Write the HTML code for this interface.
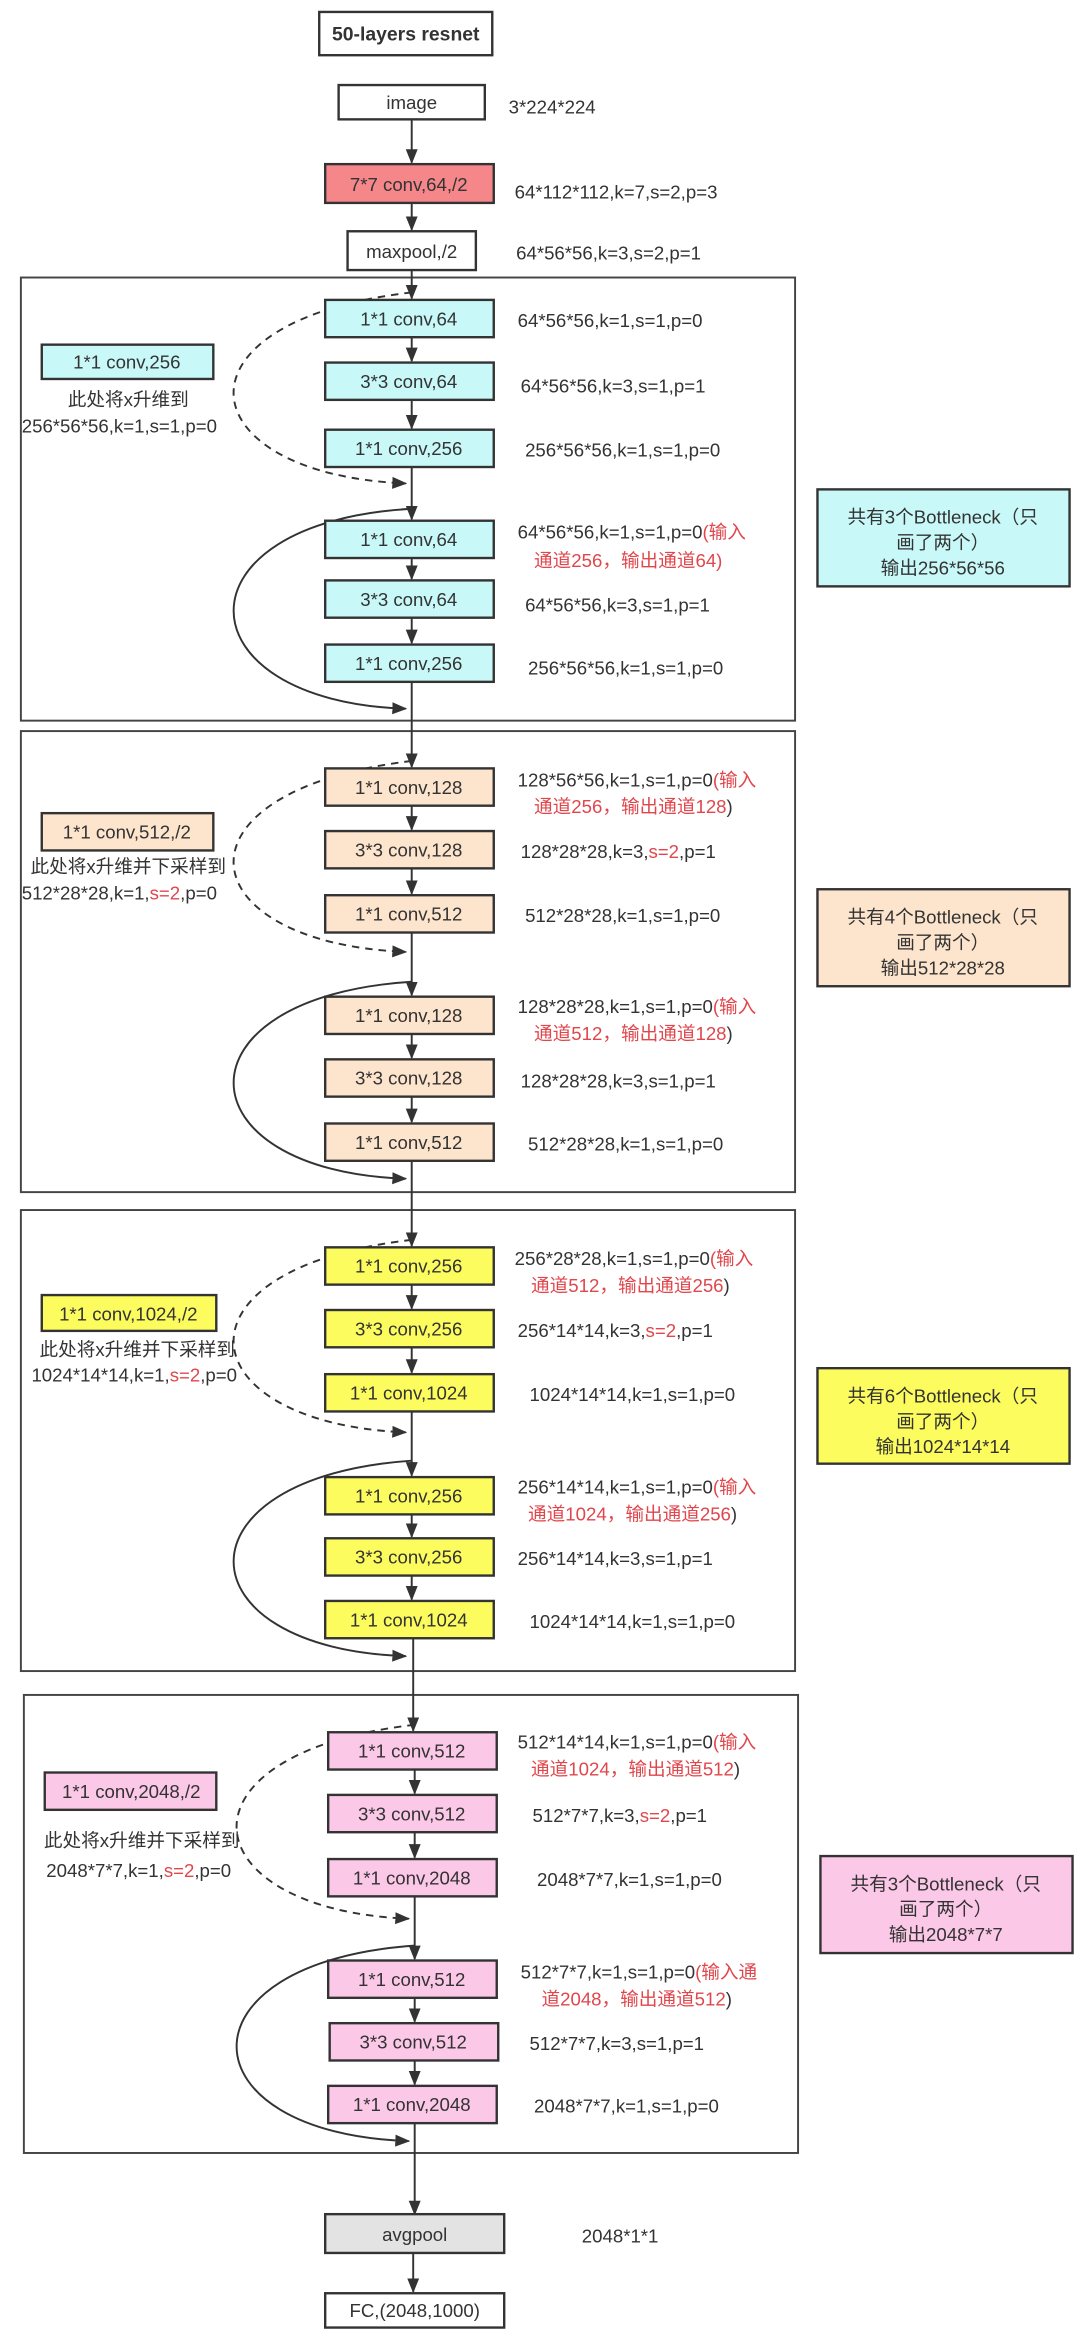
<!DOCTYPE html>
<html><head><meta charset="utf-8"><style>
html,body{margin:0;padding:0;background:#fff;}
svg{display:block;}
text{font-family:"Liberation Sans","Noto Sans CJK SC",sans-serif;font-size:12.5px;fill:#333;}
.c{text-anchor:middle;}
.r{fill:#e0474c;}
.n{stroke:#333;stroke-width:1.6;}
.l{stroke:#333;stroke-width:1.3;fill:none;}
.f{fill:none;stroke:#444;stroke-width:1.3;}
</style></head><body>
<svg width="1080" height="2338" viewBox="0 0 724 1567" preserveAspectRatio="none" xmlns="http://www.w3.org/2000/svg">
<defs>
<marker id="a" markerWidth="10" markerHeight="10" refX="9" refY="5" orient="auto" markerUnits="userSpaceOnUse"><path d="M0,1 L10,5 L0,9 Z" fill="#333"/></marker>
</defs>
<rect width="724" height="1567" fill="#fff"/>
<rect x="214" y="8" width="116" height="29" fill="#fff" class="n"/>
<text x="272" y="27" class="c" style="font-weight:bold;font-size:13px">50-layers resnet</text>
<rect x="227" y="57" width="98" height="23" fill="#fff" class="n"/>
<text x="276" y="73" class="c">image</text>
<text x="341" y="76">3*224*224</text>
<line x1="276" y1="80" x2="276" y2="109" class="l" marker-end="url(#a)"/>
<rect x="218" y="110" width="113" height="26" fill="#f5878b" class="n"/>
<text x="274" y="128" class="c">7*7 conv,64,/2</text>
<text x="345" y="133">64*112*112,k=7,s=2,p=3</text>
<line x1="276" y1="136" x2="276" y2="154" class="l" marker-end="url(#a)"/>
<rect x="233" y="155" width="86" height="26" fill="#fff" class="n"/>
<text x="276" y="173" class="c">maxpool,/2</text>
<text x="346" y="174">64*56*56,k=3,s=2,p=1</text>

<rect x="14" y="186" width="519" height="297" class="f"/>
<rect x="14" y="490" width="519" height="309" class="f"/>
<rect x="14" y="811" width="519" height="309" class="f"/>
<rect x="16" y="1136" width="519" height="307" class="f"/>

<line x1="276" y1="181" x2="276" y2="200" class="l" marker-end="url(#a)"/>
<line x1="276" y1="457" x2="276" y2="514" class="l" marker-end="url(#a)"/>
<line x1="276" y1="778" x2="276" y2="835" class="l" marker-end="url(#a)"/>
<line x1="277" y1="1098" x2="277" y2="1160" class="l" marker-end="url(#a)"/>
<line x1="278" y1="1423" x2="278" y2="1484" class="l" marker-end="url(#a)"/>

<g>
<line x1="276" y1="226" x2="276" y2="242" class="l" marker-end="url(#a)"/>
<line x1="276" y1="268" x2="276" y2="287" class="l" marker-end="url(#a)"/>
<line x1="276" y1="313" x2="276" y2="348" class="l" marker-end="url(#a)"/>
<line x1="276" y1="374" x2="276" y2="388" class="l" marker-end="url(#a)"/>
<line x1="276" y1="414" x2="276" y2="431" class="l" marker-end="url(#a)"/>
<path d="M276,196 C110,215 125,318 272,324" class="l" stroke-dasharray="5,4" marker-end="url(#a)"/>
<path d="M276,341 C115,350 120,470 272,475" class="l" marker-end="url(#a)"/>
<g fill="#c8f8f8" class="n">
<rect x="218" y="201" width="113" height="25"/><rect x="218" y="243" width="113" height="25"/><rect x="218" y="288" width="113" height="25"/>
<rect x="218" y="349" width="113" height="25"/><rect x="218" y="389" width="113" height="25"/><rect x="218" y="432" width="113" height="25"/>
</g>
<text x="274" y="218" class="c">1*1 conv,64</text>
<text x="274" y="260" class="c">3*3 conv,64</text>
<text x="274" y="305" class="c">1*1 conv,256</text>
<text x="274" y="366" class="c">1*1 conv,64</text>
<text x="274" y="406" class="c">3*3 conv,64</text>
<text x="274" y="449" class="c">1*1 conv,256</text>
<text x="347" y="219">64*56*56,k=1,s=1,p=0</text>
<text x="349" y="263">64*56*56,k=3,s=1,p=1</text>
<text x="352" y="306">256*56*56,k=1,s=1,p=0</text>
<text x="347" y="361">64*56*56,k=1,s=1,p=0<tspan class="r">(输入</tspan></text>
<text x="358" y="380" class="r">通道256，输出通道64)</text>
<text x="352" y="410">64*56*56,k=3,s=1,p=1</text>
<text x="354" y="452">256*56*56,k=1,s=1,p=0</text>
<rect x="28" y="231" width="115" height="23" fill="#c8f8f8" class="n"/>
<text x="85" y="247" class="c">1*1 conv,256</text>
<text x="86" y="272" class="c">此处将x升维到</text>
<text x="80" y="290" class="c">256*56*56,k=1,s=1,p=0</text>
<rect x="548" y="328" width="169" height="65" fill="#c8f8f8" class="n"/>
<text x="632" y="351" class="c">共有3个Bottleneck（只</text>
<text x="632" y="368" class="c">画了两个）</text>
<text x="632" y="385" class="c">输出256*56*56</text>
</g>

<g>
<line x1="276" y1="540" x2="276" y2="556" class="l" marker-end="url(#a)"/>
<line x1="276" y1="582" x2="276" y2="599" class="l" marker-end="url(#a)"/>
<line x1="276" y1="625" x2="276" y2="667" class="l" marker-end="url(#a)"/>
<line x1="276" y1="693" x2="276" y2="709" class="l" marker-end="url(#a)"/>
<line x1="276" y1="735" x2="276" y2="752" class="l" marker-end="url(#a)"/>
<path d="M276,510 C110,530 125,632 272,638" class="l" stroke-dasharray="5,4" marker-end="url(#a)"/>
<path d="M276,658 C115,668 120,785 272,790" class="l" marker-end="url(#a)"/>
<g fill="#fde4cd" class="n">
<rect x="218" y="515" width="113" height="25"/><rect x="218" y="557" width="113" height="25"/><rect x="218" y="600" width="113" height="25"/>
<rect x="218" y="668" width="113" height="25"/><rect x="218" y="710" width="113" height="25"/><rect x="218" y="753" width="113" height="25"/>
</g>
<text x="274" y="532" class="c">1*1 conv,128</text>
<text x="274" y="574" class="c">3*3 conv,128</text>
<text x="274" y="617" class="c">1*1 conv,512</text>
<text x="274" y="685" class="c">1*1 conv,128</text>
<text x="274" y="727" class="c">3*3 conv,128</text>
<text x="274" y="770" class="c">1*1 conv,512</text>
<text x="347" y="527">128*56*56,k=1,s=1,p=0<tspan class="r">(输入</tspan></text>
<text x="358" y="545" class="r">通道256，输出通道128<tspan style="fill:#333">)</tspan></text>
<text x="349" y="575">128*28*28,k=3,<tspan class="r">s=2</tspan>,p=1</text>
<text x="352" y="618">512*28*28,k=1,s=1,p=0</text>
<text x="347" y="679">128*28*28,k=1,s=1,p=0<tspan class="r">(输入</tspan></text>
<text x="358" y="697" class="r">通道512，输出通道128<tspan style="fill:#333">)</tspan></text>
<text x="349" y="729">128*28*28,k=3,s=1,p=1</text>
<text x="354" y="771">512*28*28,k=1,s=1,p=0</text>
<rect x="28" y="545" width="115" height="25" fill="#fde4cd" class="n"/>
<text x="85" y="562" class="c">1*1 conv,512,/2</text>
<text x="86" y="585" class="c">此处将x升维并下采样到</text>
<text x="80" y="603" class="c">512*28*28,k=1,<tspan class="r">s=2</tspan>,p=0</text>
<rect x="548" y="596" width="169" height="65" fill="#fde4cd" class="n"/>
<text x="632" y="619" class="c">共有4个Bottleneck（只</text>
<text x="632" y="636" class="c">画了两个）</text>
<text x="632" y="653" class="c">输出512*28*28</text>
</g>

<g>
<line x1="276" y1="861" x2="276" y2="877" class="l" marker-end="url(#a)"/>
<line x1="276" y1="903" x2="276" y2="920" class="l" marker-end="url(#a)"/>
<line x1="276" y1="946" x2="276" y2="989" class="l" marker-end="url(#a)"/>
<line x1="276" y1="1015" x2="276" y2="1030" class="l" marker-end="url(#a)"/>
<line x1="276" y1="1056" x2="276" y2="1072" class="l" marker-end="url(#a)"/>
<path d="M276,831 C110,850 125,954 272,960" class="l" stroke-dasharray="5,4" marker-end="url(#a)"/>
<path d="M276,979 C115,990 120,1105 272,1110" class="l" marker-end="url(#a)"/>
<g fill="#fcfc5e" class="n">
<rect x="218" y="836" width="113" height="25"/><rect x="218" y="878" width="113" height="25"/><rect x="218" y="921" width="113" height="25"/>
<rect x="218" y="990" width="113" height="25"/><rect x="218" y="1031" width="113" height="25"/><rect x="218" y="1073" width="113" height="25"/>
</g>
<text x="274" y="853" class="c">1*1 conv,256</text>
<text x="274" y="895" class="c">3*3 conv,256</text>
<text x="274" y="938" class="c">1*1 conv,1024</text>
<text x="274" y="1007" class="c">1*1 conv,256</text>
<text x="274" y="1048" class="c">3*3 conv,256</text>
<text x="274" y="1090" class="c">1*1 conv,1024</text>
<text x="345" y="848">256*28*28,k=1,s=1,p=0<tspan class="r">(输入</tspan></text>
<text x="356" y="866" class="r">通道512，输出通道256<tspan style="fill:#333">)</tspan></text>
<text x="347" y="896">256*14*14,k=3,<tspan class="r">s=2</tspan>,p=1</text>
<text x="355" y="939">1024*14*14,k=1,s=1,p=0</text>
<text x="347" y="1001">256*14*14,k=1,s=1,p=0<tspan class="r">(输入</tspan></text>
<text x="354" y="1019" class="r">通道1024，输出通道256<tspan style="fill:#333">)</tspan></text>
<text x="347" y="1049">256*14*14,k=3,s=1,p=1</text>
<text x="355" y="1091">1024*14*14,k=1,s=1,p=0</text>
<rect x="28" y="868" width="117" height="24" fill="#fcfc5e" class="n"/>
<text x="86" y="885" class="c">1*1 conv,1024,/2</text>
<text x="92" y="909" class="c">此处将x升维并下采样到</text>
<text x="90" y="926" class="c">1024*14*14,k=1,<tspan class="r">s=2</tspan>,p=0</text>
<rect x="548" y="917" width="169" height="64" fill="#fcfc5e" class="n"/>
<text x="632" y="940" class="c">共有6个Bottleneck（只</text>
<text x="632" y="957" class="c">画了两个）</text>
<text x="632" y="974" class="c">输出1024*14*14</text>
</g>

<g>
<line x1="278" y1="1186" x2="278" y2="1202" class="l" marker-end="url(#a)"/>
<line x1="278" y1="1228" x2="278" y2="1245" class="l" marker-end="url(#a)"/>
<line x1="278" y1="1271" x2="278" y2="1313" class="l" marker-end="url(#a)"/>
<line x1="278" y1="1339" x2="278" y2="1355" class="l" marker-end="url(#a)"/>
<line x1="278" y1="1381" x2="278" y2="1397" class="l" marker-end="url(#a)"/>
<path d="M278,1156 C112,1175 127,1280 274,1286" class="l" stroke-dasharray="5,4" marker-end="url(#a)"/>
<path d="M278,1304 C117,1315 122,1430 274,1435" class="l" marker-end="url(#a)"/>
<g fill="#fcc8e8" class="n">
<rect x="220" y="1161" width="113" height="25"/><rect x="220" y="1203" width="113" height="25"/><rect x="220" y="1246" width="113" height="25"/>
<rect x="220" y="1314" width="113" height="25"/><rect x="221" y="1356" width="113" height="25"/><rect x="220" y="1398" width="113" height="25"/>
</g>
<text x="276" y="1178" class="c">1*1 conv,512</text>
<text x="276" y="1220" class="c">3*3 conv,512</text>
<text x="276" y="1263" class="c">1*1 conv,2048</text>
<text x="276" y="1331" class="c">1*1 conv,512</text>
<text x="277" y="1373" class="c">3*3 conv,512</text>
<text x="276" y="1415" class="c">1*1 conv,2048</text>
<text x="347" y="1172">512*14*14,k=1,s=1,p=0<tspan class="r">(输入</tspan></text>
<text x="356" y="1190" class="r">通道1024，输出通道512<tspan style="fill:#333">)</tspan></text>
<text x="357" y="1221">512*7*7,k=3,<tspan class="r">s=2</tspan>,p=1</text>
<text x="360" y="1264">2048*7*7,k=1,s=1,p=0</text>
<text x="349" y="1326">512*7*7,k=1,s=1,p=0<tspan class="r">(输入通</tspan></text>
<text x="363" y="1344" class="r">道2048，输出通道512<tspan style="fill:#333">)</tspan></text>
<text x="355" y="1374">512*7*7,k=3,s=1,p=1</text>
<text x="358" y="1416">2048*7*7,k=1,s=1,p=0</text>
<rect x="30" y="1188" width="115" height="25" fill="#fcc8e8" class="n"/>
<text x="88" y="1205" class="c">1*1 conv,2048,/2</text>
<text x="95" y="1238" class="c">此处将x升维并下采样到</text>
<text x="93" y="1258" class="c">2048*7*7,k=1,<tspan class="r">s=2</tspan>,p=0</text>
<rect x="550" y="1244" width="169" height="65" fill="#fcc8e8" class="n"/>
<text x="634" y="1267" class="c">共有3个Bottleneck（只</text>
<text x="634" y="1284" class="c">画了两个）</text>
<text x="634" y="1301" class="c">输出2048*7*7</text>
</g>

<rect x="218" y="1484" width="120" height="26" fill="#e3e3e3" class="n"/>
<text x="278" y="1502" class="c">avgpool</text>
<text x="390" y="1503">2048*1*1</text>
<line x1="277" y1="1510" x2="277" y2="1536" class="l" marker-end="url(#a)"/>
<rect x="218" y="1537" width="120" height="23" fill="#fff" class="n"/>
<text x="278" y="1553" class="c">FC,(2048,1000)</text>
</svg>
</body></html>
